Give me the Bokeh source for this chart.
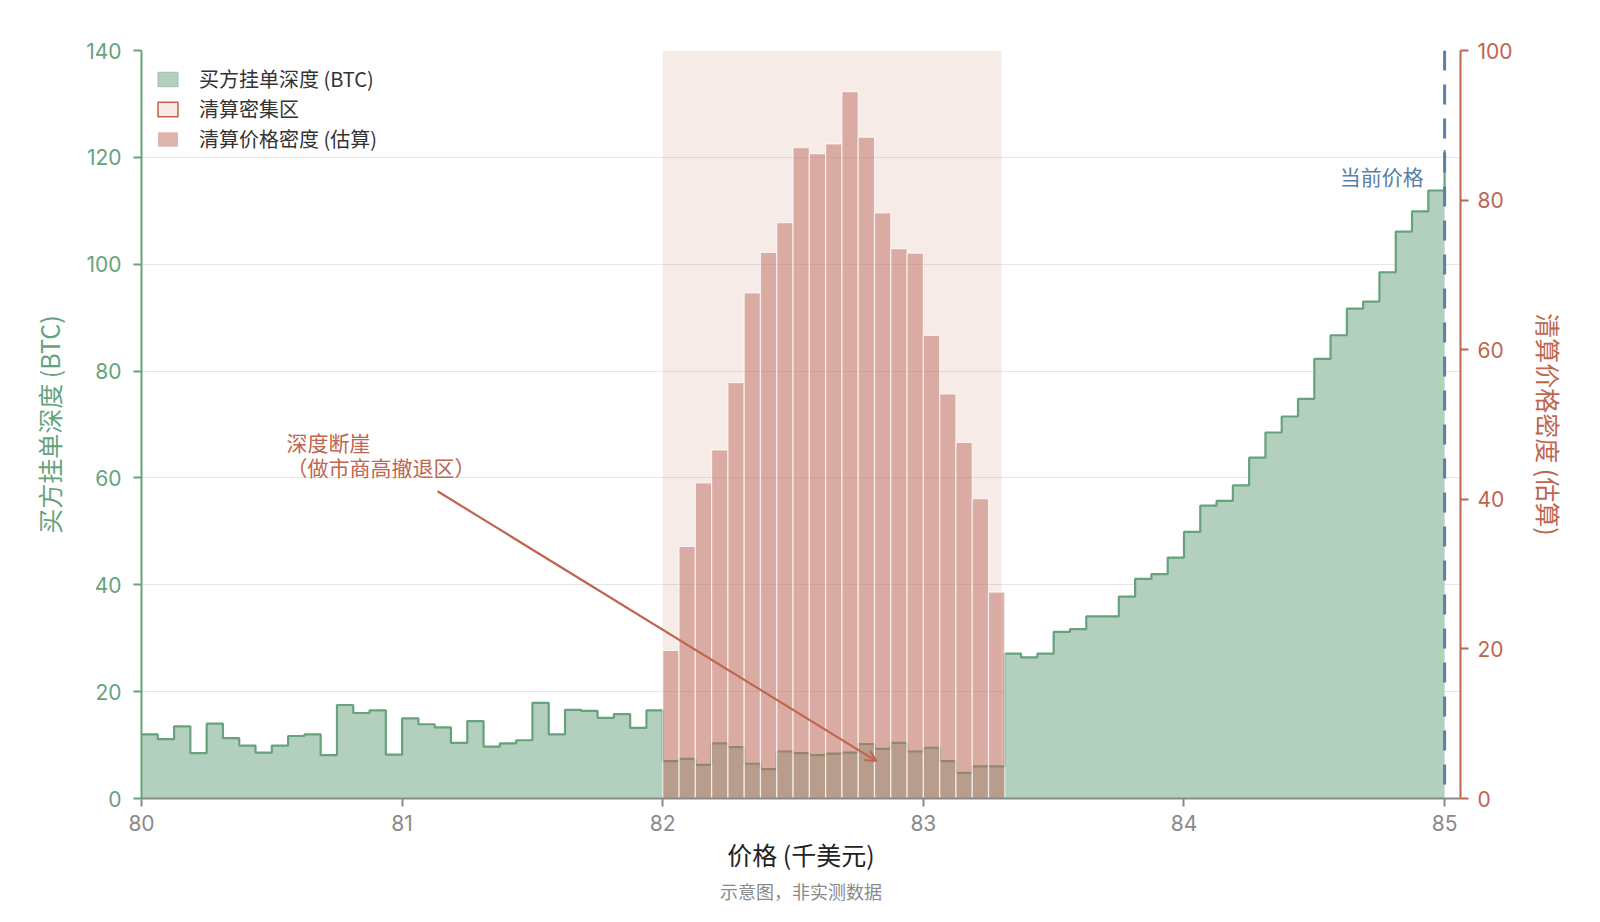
import numpy as np
from bokeh.plotting import figure
from bokeh.models import (Range1d, LinearAxis, FixedTicker, Span, Arrow, OpenHead,
                          Title, ColumnDataSource, BoxAnnotation)
from bokeh.core.properties import value
from bokeh.embed import file_html
from bokeh.resources import INLINE

# ---------------- data ----------------
price_start = 80.0          # 千美元
bin_width = 0.0625          # 千美元
bid_depth = [12.0, 11.1, 13.5, 8.5, 14.0, 11.3, 9.9, 8.6, 9.9, 11.7, 12.0, 8.1, 17.5, 16.0, 16.5, 8.2,
             15.0, 13.9, 13.3, 10.4, 14.5, 9.7, 10.3, 10.9, 17.9, 12.0, 16.6, 16.4, 15.1, 15.8, 13.2, 16.5,
             7.0, 7.4, 6.3, 10.3, 9.6, 6.5, 5.5, 8.8, 8.5, 8.1, 8.4, 8.6, 10.2, 9.3, 10.4, 8.8,
             9.5, 7.0, 4.8, 6.0, 6.0,
             27.1, 26.4, 27.1, 31.2, 31.7, 34.1, 34.1, 37.8, 41.1, 42.0, 45.1, 49.9, 54.8, 55.7,
             58.6, 63.8, 68.5, 71.5, 74.8, 82.3, 86.7, 91.7, 93.0, 98.5, 106.1, 109.9, 113.8,
             121.4]
liq_start = 82.0
liq_density = [19.8, 33.7, 42.2, 46.6, 55.6, 67.6, 73.0, 77.0, 87.0, 86.2, 87.5, 94.5, 88.4,
               78.3, 73.5, 72.9, 61.9, 54.1, 47.6, 40.1, 27.6]
zone_left, zone_right = 82.0, 83.3
current_price = 85.0
x_ticks = [80, 81, 82, 83, 84, 85]
left_ticks = [0, 20, 40, 60, 80, 100, 120, 140]
right_ticks = [0, 20, 40, 60, 80, 100]
annot_text = ["深度断崖", "（做市商高撤退区）"]
annot_xy = [(80.556, 66.8), (80.556, 62.0)]
arrow_from = (81.136, 57.5)
arrow_to = (82.82, 7.0)
price_label_xy = (84.92, 116.5)
footnote = "示意图，非实测数据"

# ---------------- style ----------------
GREEN_LINE = "#66a37d"
GREEN_FILL = "#b3cfbd"
RED = "#c0654f"
BAR = "#be6c5c"
BLUE = "#5b7fa6"
GRAY = "#8a8a8a"
CJK = "Noto Sans CJK SC"
NUM = "Inter"

W, H = 1584, 906
BL, BR, BT, BB = 141, 124, 50, 108

edges = price_start + bin_width * np.arange(len(bid_depth))
liq_left = liq_start + bin_width * np.arange(len(liq_density))

p = figure(width=W, height=H, output_backend="svg", toolbar_location=None,
           x_range=Range1d(80, 85.061), y_range=Range1d(0, 140),
           min_border_left=BL, min_border_right=BR, min_border_top=BT, min_border_bottom=BB)
p.outline_line_color = None
p.background_fill_color = "white"
p.extra_y_ranges = {"liq": Range1d(0, 100)}

# zone shading
p.add_layout(BoxAnnotation(left=zone_left, right=zone_right, fill_color=RED, fill_alpha=0.13,
                           line_color=None, level="underlay"))

# depth fill + line
p.varea_step(x=edges, y1=np.zeros(len(edges)), y2=bid_depth, step_mode="after",
             fill_color=GREEN_FILL, fill_alpha=1.0)
p.step(x=edges, y=bid_depth, mode="after", line_color=GREEN_LINE, line_width=2.2)

# liquidation bars
src = ColumnDataSource(dict(left=liq_left, right=liq_left + bin_width,
                            top=liq_density, bottom=[0] * len(liq_density)))
p.quad(left="left", right="right", top="top", bottom="bottom", source=src, y_range_name="liq",
       fill_color=BAR, fill_alpha=0.5, line_color="white", line_alpha=0.7, line_width=1.2)

# current price
p.add_layout(Span(location=current_price, dimension="height", line_color=BLUE, line_width=3,
                  line_dash="20 14"))
p.text(x=[price_label_xy[0]], y=[price_label_xy[1]], text=["当前价格"], text_align="right",
       text_baseline="middle", text_color=BLUE, text_font=value(CJK), text_font_size="21px")

# annotation
for (ax, ay), t in zip(annot_xy, annot_text):
    p.text(x=[ax], y=[ay], text=[t], text_align="left", text_baseline="middle",
           text_color=RED, text_font=value(CJK), text_font_size="21px")
p.add_layout(Arrow(end=OpenHead(size=11, line_color=RED, line_width=2),
                   x_start=arrow_from[0], y_start=arrow_from[1], x_end=arrow_to[0], y_end=arrow_to[1],
                   line_color=RED, line_width=2.2))

# legend proxies (one off-screen row each so the legend can draw their swatches)
off = dict(left=[70.0], right=[70.1], top=[-20.0], bottom=[-21.0])
p.quad(**off, fill_color=GREEN_FILL, line_color="#9cc3aa",
       line_width=1, legend_label="买方挂单深度 (BTC)")
p.quad(**off, fill_color=RED, fill_alpha=0.15, line_color=RED,
       line_width=1.5, legend_label="清算密集区")
p.quad(**off, fill_color=BAR, fill_alpha=0.5, line_color=None,
       legend_label="清算价格密度 (估算)")

leg = p.legend[0]
leg.location = "top_left"
leg.margin = 14
leg.padding = 8
leg.spacing = 1
leg.glyph_width = 25
leg.glyph_height = 18
leg.label_height = 20
leg.label_standoff = 19
leg.label_text_font = CJK
leg.label_text_font_size = "20px"
leg.label_text_color = "#333333"
leg.border_line_color = None
leg.background_fill_alpha = 0

# grid
p.xgrid.visible = False
p.ygrid.ticker = FixedTicker(ticks=left_ticks)
p.ygrid.grid_line_color = "#e6e6e6"
p.ygrid.grid_line_width = 1


def style_axis(ax, color, label_color, label, tick_std, lab_std):
    ax.axis_line_color = color
    ax.axis_line_width = 2
    ax.major_tick_line_color = color
    ax.major_tick_line_width = 2
    ax.major_tick_out = 8
    ax.major_tick_in = 0
    ax.minor_tick_line_color = None
    ax.major_label_text_color = label_color
    ax.major_label_text_font = NUM
    ax.major_label_text_font_size = "21px"
    ax.major_label_standoff = tick_std
    ax.axis_label = label
    ax.axis_label_text_font = CJK
    ax.axis_label_text_font_style = "normal"
    ax.axis_label_text_font_size = "25px"
    ax.axis_label_standoff = lab_std


xa = p.xaxis[0]
xa.ticker = FixedTicker(ticks=x_ticks)
style_axis(xa, GRAY, GRAY, "价格 (千美元)", 8, 2)
xa.axis_label_text_color = "#222222"

ya = p.yaxis[0]
ya.ticker = FixedTicker(ticks=left_ticks)
style_axis(ya, GREEN_LINE, GREEN_LINE, "买方挂单深度 (BTC)", 12, 16)
ya.axis_label_text_color = GREEN_LINE

ra = LinearAxis(y_range_name="liq", ticker=FixedTicker(ticks=right_ticks))
style_axis(ra, RED, RED, "清算价格密度 (估算)", 9, 15)
ra.axis_label_text_color = RED
p.add_layout(ra, "right")

# footnote under the x-axis title
p.add_layout(Title(text=footnote, align="center", text_font=CJK, text_font_size="18px",
                   text_font_style="normal", text_color=GRAY, standoff=2), "below")

open("out.html", "w").write(file_html(p, INLINE))
